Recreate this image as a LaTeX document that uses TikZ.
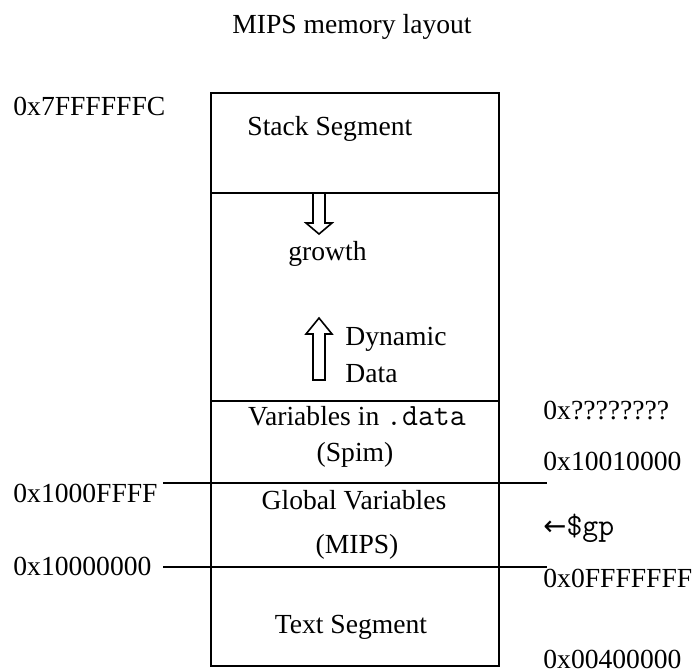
\documentclass[tikz,border=0pt]{standalone}
\usepackage{fontspec}
\setmainfont{Liberation Serif}
\setmonofont{Latin Modern Mono}[Scale=1.12]
\newfontfamily\symfont{DejaVu Sans}
\begin{document}
\begin{tikzpicture}[x=0.5pt,y=-0.5pt,
  lbl/.style={inner sep=0pt,anchor=base west,font=\fontsize{13.8}{16}\selectfont},
  ctr/.style={inner sep=0pt,anchor=base,font=\fontsize{13.8}{16}\selectfont},
  frame/.style={line width=1pt},
  guide/.style={line width=0.8pt},
  hollow/.style={line width=0.8pt,line join=miter,fill=white}]
\useasboundingbox (0,0) rectangle (694,671);

% title
\node[ctr] (title) at (352,33) {MIPS memory layout};

% memory column and its dividers
\draw[frame] (211,93) rectangle (499,666);
\draw[frame] (211,193) -- (499,193);
\draw[frame] (211,401) -- (499,401);
\draw[guide] (163,483) -- (547,483);
\draw[guide] (163,567) -- (547,567);

% segment labels
\node[lbl] (stack) at (247,135) {Stack Segment};
\node[lbl] (growth) at (288,260) {growth};
\node[lbl] (dyn) at (345,345) {Dynamic};
\node[lbl] (dat) at (345,382) {Data};
\node[ctr] (vars) at (357,425) {Variables in \texttt{.data}};
\node[ctr] (spim) at (355,461) {(Spim)};
\node[ctr] (glob) at (354,509) {Global Variables};
\node[ctr] (mips) at (357,553) {(MIPS)};
\node[ctr] (text) at (351,633) {Text Segment};

% growth arrows
\draw[hollow] (313,193) -- (325,193) -- (325,223) -- (332,223) -- (319,234)
  -- (306,223) -- (313,223) -- cycle;
\draw[hollow] (313,380) -- (325,380) -- (325,334) -- (332,334) -- (319,318)
  -- (306,334) -- (313,334) -- cycle;

% addresses on the left
\node[lbl] (a7f) at (13,115) {0x7FFFFFFC};
\node[lbl] (a1f) at (13,502) {0x1000FFFF};
\node[lbl] (a10) at (13,575) {0x10000000};

% addresses on the right
\node[lbl] (aq) at (543,419) {0x????????};
\node[lbl] (a11) at (543,470) {0x10010000};
\node[lbl] (gp) at (543,535) {{\symfont\fontsize{13.8}{16}\selectfont ←}\texttt{\$gp}};
\node[lbl] (a0f) at (543,587) {0x0FFFFFFF};
\node[lbl] (a04) at (543,668) {0x00400000};
\end{tikzpicture}
\end{document}
